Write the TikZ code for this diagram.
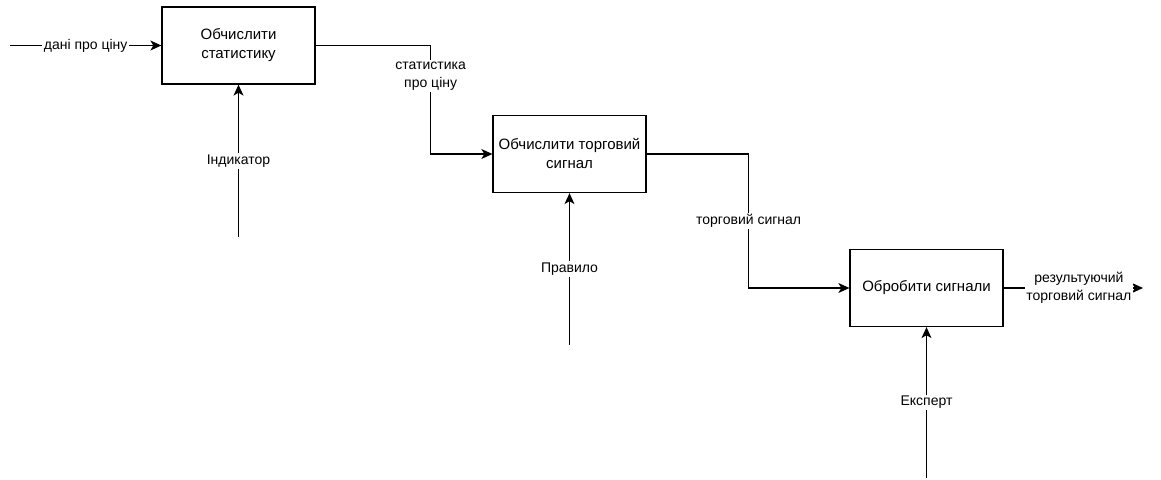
\documentclass[tikz,border=0pt]{standalone}
\usepackage{fontspec}
\setmainfont{Liberation Sans}
\usetikzlibrary{arrows.meta}
\tikzset{func/.style={draw, line width=1.3pt, minimum width=153pt, minimum height=77pt,
  align=center, font=\fontsize{15}{19}\selectfont}}
\tikzset{flow/.style={line width=1.2pt, -{Stealth[length=11pt,width=10pt,inset=3pt]}}}
\tikzset{lbl/.style={fill=white, align=center, inner sep=1.5pt,
  font=\fontsize{14}{18}\selectfont}}

\begin{document}
\begin{tikzpicture}[x=1pt, y=-1pt]
\useasboundingbox (0,0) rectangle (1161,479);

% functions
\node[func] (stat) at (238.5,45.5) {Обчислити\\статистику};
\node[func] (sig) at (569.5,154) {Обчислити торговий\\сигнал};
\node[func] (proc) at (926.5,288) {Обробити сигнали};

% free ends
\coordinate (din) at (10,45.5);
\coordinate (ind) at (238.5,237);
\coordinate (rule) at (569.5,345);
\coordinate (exp) at (926.5,478);
\coordinate (res) at (1143,288);

% inputs and outputs
\draw[flow] (din) -- node[lbl] {дані про ціну} (stat);
\draw[flow] (stat.east) -- ++(115,0) |- node[lbl, pos=0.14] {статистика\\про ціну} (sig.west);
\draw[flow] (sig.east) -- ++(102,0) |- node[lbl, pos=0.25] {торговий сигнал} (proc.west);
\draw[flow] (proc.east) -- node[lbl, pos=0.54] {результуючий\\торговий сигнал} (res);

% mechanisms
\draw[flow] (ind) -- node[lbl] {Індикатор} (stat.south);
\draw[flow] (rule) -- node[lbl] {Правило} (sig.south);
\draw[flow] (exp) -- node[lbl] {Експерт} (proc.south);

\end{tikzpicture}
\end{document}
